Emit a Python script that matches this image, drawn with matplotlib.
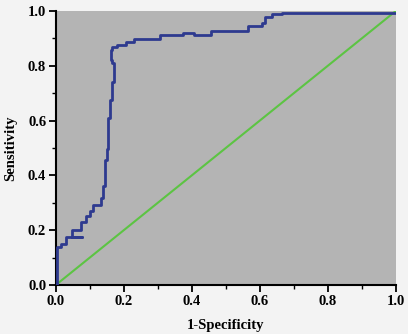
import matplotlib
matplotlib.use("Agg")
import matplotlib.pyplot as plt
from matplotlib.ticker import MultipleLocator

# ROC curve
roc_fpr = [0.0, 0.003, 0.003, 0.015, 0.015, 0.03, 0.03, 0.078, 0.047, 0.047,
           0.075, 0.075, 0.088, 0.088, 0.1, 0.1, 0.11, 0.11, 0.134, 0.134,
           0.139, 0.139, 0.144, 0.144, 0.149, 0.149, 0.154, 0.154, 0.159, 0.159,
           0.164, 0.164, 0.171, 0.171, 0.164, 0.164, 0.161, 0.161, 0.166, 0.166,
           0.18, 0.18, 0.205, 0.205, 0.23, 0.23, 0.305, 0.305, 0.375, 0.375,
           0.405, 0.405, 0.455, 0.455, 0.565, 0.565, 0.605, 0.605, 0.615, 0.615,
           0.635, 0.635, 0.664, 0.664, 1.0]
roc_tpr = [0.0, 0.0, 0.14, 0.14, 0.15, 0.15, 0.175, 0.175, 0.175, 0.2,
           0.2, 0.23, 0.23, 0.25, 0.25, 0.27, 0.27, 0.29, 0.29, 0.317,
           0.317, 0.36, 0.36, 0.456, 0.456, 0.495, 0.495, 0.61, 0.61, 0.675,
           0.675, 0.742, 0.742, 0.81, 0.81, 0.82, 0.82, 0.858, 0.858, 0.868,
           0.868, 0.876, 0.876, 0.888, 0.888, 0.898, 0.898, 0.912, 0.912, 0.921,
           0.921, 0.914, 0.914, 0.928, 0.928, 0.945, 0.945, 0.957, 0.957, 0.979,
           0.979, 0.988, 0.988, 0.994, 0.994]

ref_x = [0.0, 1.0]
ref_y = [0.0, 1.0]

plt.rcParams["font.family"] = ["Liberation Serif", "DejaVu Serif"]
plt.rcParams["font.weight"] = "bold"

fig = plt.figure(figsize=(4.08, 3.34), dpi=100, facecolor="#f3f3f3")
ax = fig.add_axes([0.137, 0.147, 0.833, 0.820], facecolor="#b4b4b4")

ax.plot(ref_x, ref_y, color="#5cc443", lw=1.5, zorder=2)
ax.plot(roc_fpr, roc_tpr, color="#2e3a8f", lw=2.0, zorder=3)

ax.set_xlim(0, 1)
ax.set_ylim(0, 1)
ax.xaxis.set_major_locator(MultipleLocator(0.2))
ax.yaxis.set_major_locator(MultipleLocator(0.2))
ax.xaxis.set_minor_locator(MultipleLocator(0.1))
ax.yaxis.set_minor_locator(MultipleLocator(0.1))
ax.xaxis.set_major_formatter(plt.FormatStrFormatter("%.1f"))
ax.yaxis.set_major_formatter(plt.FormatStrFormatter("%.1f"))

for side in ("top", "right"):
    ax.spines[side].set_visible(False)
for side in ("left", "bottom"):
    ax.spines[side].set_linewidth(1.5)
    ax.spines[side].set_color("black")

ax.tick_params(which="major", direction="out", length=5, width=1.3,
               labelsize=10.5, pad=2)
ax.tick_params(which="minor", direction="out", length=3, width=1.0)
for lab in ax.get_xticklabels() + ax.get_yticklabels():
    lab.set_fontweight("bold")

ax.set_xlabel("1-Specificity", fontsize=10.5, fontweight="bold", labelpad=8)
ax.set_ylabel("Sensitivity", fontsize=10.5, fontweight="bold", labelpad=8)

fig.savefig("out.png", dpi=100, facecolor=fig.get_facecolor())
